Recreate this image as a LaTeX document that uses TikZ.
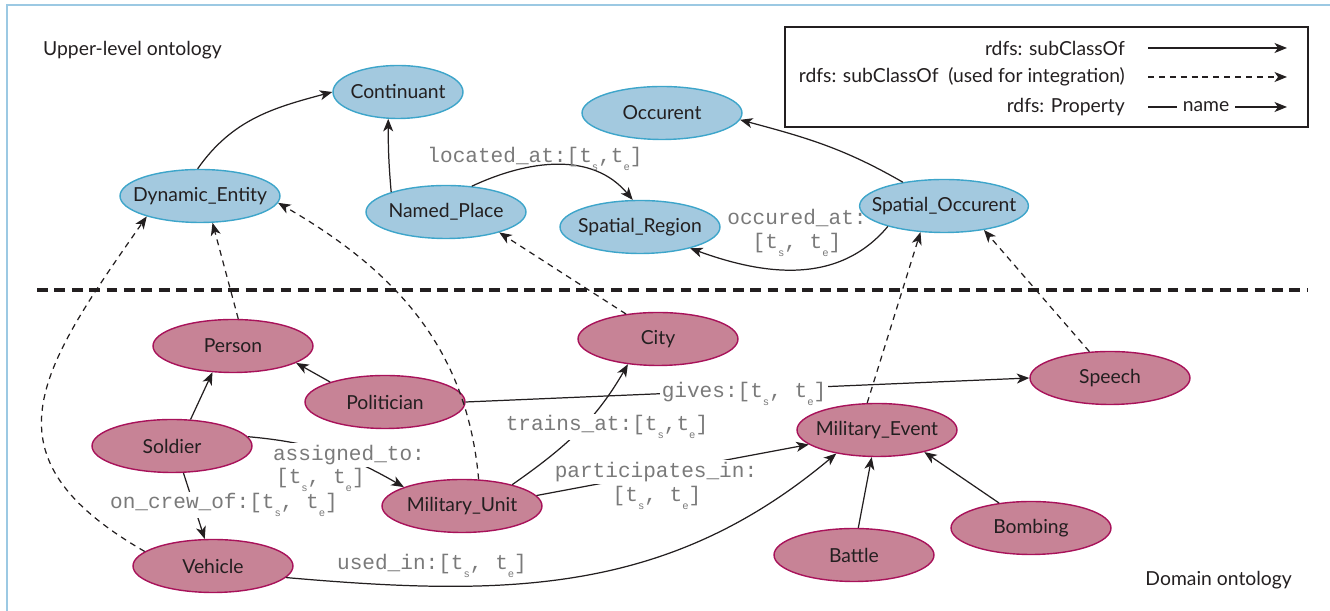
\documentclass[tikz,border=0pt]{standalone}
\usepackage{fontspec}
\setmainfont{Lato}
\newfontfamily\propfont{Liberation Mono}
\usepackage{tikz}
\usetikzlibrary{shapes.geometric,arrows.meta}
\definecolor{ink}{HTML}{231F20}
\definecolor{upfill}{HTML}{A3C9DF}
\definecolor{upline}{HTML}{3DA5CA}
\definecolor{domfill}{HTML}{C78396}
\definecolor{domline}{HTML}{A8125A}
\definecolor{framec}{HTML}{9CC9E3}
\definecolor{propgray}{HTML}{7A7A7A}
\newcommand{\tsub}[1]{t\raisebox{-0.7ex}{\fontsize{6}{6}\selectfont #1}}

\begin{document}
\begin{tikzpicture}[x=0.02cm,y=0.02cm,
  font=\fontsize{11}{13}\selectfont, text=ink,
  cls/.style={ellipse, line width=0.8pt, minimum width=3.2cm, minimum height=1.06cm,
    inner xsep=-0.25cm, inner ysep=0pt},
  upper/.style={cls, draw=upline, fill=upfill},
  dom/.style={cls, draw=domline, fill=domfill},
  sub/.style={draw=ink, line width=0.7pt, -{Stealth[length=2.5mm,width=2mm,inset=0.7mm]}},
  integ/.style={sub, dash pattern=on 3.4pt off 2.8pt},
  prop/.style={font=\propfont\fontsize{12}{13.5}\selectfont, text=propgray, inner sep=1pt, align=center},
  onedge/.style={prop, fill=white}]
\useasboundingbox (0,0) rectangle (1330,611);

% frame and separator
\draw[framec, line width=1pt] (7,0) -- (7,606) -- (1330,606);
\draw[ink, line width=2.3pt, dash pattern=on 6.2pt off 3.7pt] (37,321) -- (1308,321);

\node[anchor=west] (uptitle) at (37,561) {Upper-level ontology};
\node[anchor=east] (domtitle) at (1298,31) {Domain ontology};

% Legend
\draw[ink, line width=0.8pt] (785,484) rectangle (1308,584);
\node[anchor=east] (lg1) at (1131,563) {rdfs: subClassOf};
\node[anchor=east] (lg2) at (1131,534) {rdfs: subClassOf\enspace(used for integration)};
\node[anchor=east] (lg3) at (1131,504) {rdfs: Property};
\node (lgname) at (1206,504) {name};
\foreach \r/\y in {1/563,2/534,3/504}{
  \coordinate (la\r) at (1148,\y);
  \coordinate (lb\r) at (1287,\y);
}
\draw[sub] (la1) -- (lb1);
\draw[integ] (la2) -- (lb2);
\draw[ink, line width=0.7pt] (la3) -- (lgname.west);
\draw[sub] (lgname.east) -- (lb3);

% Upper-level classes
\node[upper, minimum width=2.6cm] (cont) at (398,519) {Continuant};
\node[upper] (occ) at (662,498) {Occurent};
\node[upper] (dyn) at (200,415) {Dynamic\_Entity};
\node[upper] (nplace) at (446,399) {Named\_Place};
\node[upper] (sreg) at (640,384) {Spatial\_Region};
\node[upper] (socc) at (944,405) {Spatial\_Occurent};

% Domain classes
\node[dom] (person) at (233,265) {Person};
\node[dom] (polit) at (385,209) {Politician};
\node[dom] (city) at (658,272) {City};
\node[dom] (speech) at (1110,233) {Speech};
\node[dom] (soldier) at (172,165) {Soldier};
\node[dom] (mevent) at (877,181) {Military\_Event};
\node[dom] (munit) at (462,105) {Military\_Unit};
\node[dom] (bombing) at (1031,83) {Bombing};
\node[dom] (vehicle) at (213,45) {Vehicle};
\node[dom] (battle) at (854,56) {Battle};

% subClassOf
\draw[sub] (dyn.95) to[out=55,in=195] (cont.west);
\draw[sub] (nplace.160) to[out=95,in=-90] (cont.250);
\draw[sub] (socc.150) to[out=150,in=-15] (occ.-5);
\draw[sub] (soldier.55) -- (person.232);
\draw[sub] (polit.160) -- (person.-15);
\draw[sub] (battle.81) -- (mevent.259);
\draw[sub] (bombing.142) -- (mevent.-25);

% subClassOf used for integration
\draw[integ] (person.79) -- (dyn.-65);
\draw[integ] (munit.58) to[out=95,in=-30] (dyn.-5);
\draw[integ] (vehicle.168) to[out=150,in=-125,looseness=1.45] (dyn.201);
\draw[integ] (city.142) -- (nplace.-21);
\draw[integ] (mevent.110) -- (socc.228);
\draw[integ] (speech.128) -- (socc.-31);

% properties
\draw[sub] (nplace.45) to[out=25,in=130] (sreg.105);
\draw[sub] (socc.200) to[out=230,in=-20] (sreg.-23);
\draw[sub] (soldier.7) to[out=-5,in=150] (munit.162);
\draw[sub] (soldier.-67) -- (vehicle.107);
\draw[sub] (munit.23) to[out=35,in=240] (city.220);
\draw[sub] (munit.8) -- (mevent.192);
\draw[sub] (polit.east) -- (speech.west);
\draw[sub] (vehicle.-9) to[out=-5,in=220] (mevent.210);

% property labels
\node[prop] (locl) at (535,452) {located\_at:[\tsub{s},\tsub{e}]};
\node[prop] (occl) at (797,378) {occured\_at:\\{}[\tsub{s}, \tsub{e}]};
\node[onedge] (assl) at (349,156) {assigned\_to:};
\node[prop, anchor=west] (assl2) at (274,131) {[\tsub{s}, \tsub{e}]};
\node[onedge] (crewl) at (224,106) {on\_crew\_of:[\tsub{s}, \tsub{e}]};
\node[onedge] (trainl) at (607,184) {trains\_at:[\tsub{s},\tsub{e}]};
\node[onedge] (partl) at (656,139) {participates\_in:};
\node[prop] (partl2) at (657,113) {[\tsub{s}, \tsub{e}]};
\node[onedge] (givel) at (744,217) {gives:[\tsub{s}, \tsub{e}]};
\node[prop] (usedl) at (432,45) {used\_in:[\tsub{s}, \tsub{e}]};
\end{tikzpicture}
\end{document}
